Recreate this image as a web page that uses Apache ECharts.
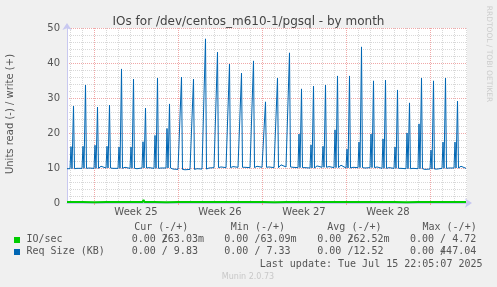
<!DOCTYPE html>
<html>
<head>
<meta charset="utf-8">
<title>IOs for /dev/centos_m610-1/pgsql - by month</title>
<script src="https://cdn.jsdelivr.net/npm/echarts@6/dist/echarts.min.js"></script>
</head>
<body style="margin: 0; background: #f0f0f0">
<div id="main" style="width: 497px; height: 287px"></div>
<script type="text/javascript">
// x is hours from the left edge of the plot (33 days shown)
// one entry per day
var bigPeak = [27.7, 33.7, 27.4, 28.0, 38.3, 35.4, 27.1, 35.7, 28.3, 36.0, 35.4,
    46.9, 43.1, 39.7, 37.1, 40.6, 28.9, 35.7, 42.9, 32.6, 33.4, 33.7, 36.3,
    36.3, 44.6, 34.9, 35.1, 32.3, 28.6, 35.7, 34.9, 35.7, 29.1];
var smallPeak = [16.1, 16.2, 16.5, 16.2, 16.0, 16.0, 17.5, 19.3, 21.3, null, null,
    null, null, null, null, null, null, null, null, 19.7, 16.6, 16.2, 20.9,
    15.4, 17.4, 19.7, 18.3, 16.0, 20.0, 22.6, 15.1, 17.4, 17.4];
var baseLevel = [9.8, 9.9, 9.9, 10.0, 9.9, 9.9, 10.0, 9.9, 10.0, 9.6, 9.6,
    9.7, 10.1, 10.1, 10.2, 10.1, 10.2, 10.1, 10.3, 10.1, 10.0, 10.2, 10.1,
    10.0, 10.1, 10.1, 9.9, 9.9, 9.8, 9.8, 9.7, 9.9, 10.0, 9.9];
var baseLate = [9.9, 10.0, 10.5, 9.9, 10.2, 9.8, 10.1, 10.0, 9.7, 9.5, 9.8,
    10.0, 10.3, 10.4, 10.2, 10.5, 10.3, 10.9, 10.2, 10.1, 10.6, 10.4, 10.8,
    10.2, 10.0, 10.3, 10.1, 9.9, 9.9, 9.6, 9.7, 10.0, 10.5, 9.9];
var ioLevel = [0.26, 0.26, 0.25, 0.26, 0.27, 0.26, 0.26, 0.26, 0.25, 0.26, 0.26,
    0.26, 0.27, 0.26, 0.26, 0.26, 0.26, 0.25, 0.26, 0.26, 0.26, 0.26, 0.27,
    0.26, 0.26, 0.26, 0.26, 0.26, 0.25, 0.26, 0.26, 0.26, 0.26, 0.26];
var ioBump = [0.55, 0.55, 0.5, 0.55, 0.55, 0.55, 0.9, 0.55, 0.55, 0.5, 0.55,
    0.5, 0.55, 0.5, 0.55, 0.55, 0.55, 0.5, 0.55, 0.55, 0.5, 0.55, 0.55,
    0.55, 0.5, 0.55, 0.55, 0.5, 0.55, 0.55, 0.55, 0.5, 0.55];
var weekLabels = ['Week 25', 'Week 26', 'Week 27', 'Week 28'];
var weekStarts = [54, 222, 390, 558, 726];
var weekMids = [138, 306, 474, 642];

var dayLines = [];
for (var h = 6; h < 800; h += 24) dayLines.push(h);

var reqData = [[0, baseLevel[0]]];
var ioData = [[0, ioLevel[0]]];
for (var d = 0; d < bigPeak.length; d++) {
    var t = d * 24;
    reqData.push([t + 6, baseLevel[d]]);
    reqData.push([t + 8, smallPeak[d] == null ? baseLevel[d] : smallPeak[d]]);
    reqData.push([t + 10, baseLevel[d]]);
    reqData.push([t + 13, bigPeak[d]]);
    reqData.push([t + 15, baseLevel[d]]);
    reqData.push([t + 20, baseLate[d]]);
    ioData.push([t + 7, ioLevel[d]]);
    ioData.push([t + 9, ioBump[d]]);
    ioData.push([t + 11, ioLevel[d]]);
}
reqData.push([798, baseLate[bigPeak.length]]);
ioData.push([798, ioLevel[bigPeak.length]]);

var mono = '10px "DejaVu Sans Mono"';
var col = [131.7, 224.3, 317.3, 410];
var cw = 6.02;

function txt(x, y, s, font, fill, align) {
    return {
        type: 'text', x: x, y: y, silent: true,
        style: { text: s, font: font || mono, fill: fill || '#555', align: align || 'left', verticalAlign: 'middle' }
    };
}

var graphics = [
    txt(col[0] + 2.5, 227.5, 'Cur (-/+)'),
    txt(col[1] + 6.5, 227.5, 'Min (-/+)'),
    txt(col[2] + 10, 227.5, 'Avg (-/+)'),
    txt(col[3] + 12.5, 227.5, 'Max (-/+)'),
    { type: 'rect', shape: { x: 14, y: 237, width: 6, height: 6 }, style: { fill: '#00cc00' } },
    { type: 'rect', shape: { x: 14, y: 249, width: 6, height: 6 }, style: { fill: '#0066b3' } },
    txt(26.5, 239.5, 'IO/sec'),
    txt(26.5, 251.5, 'Req Size (KB)'),
    txt(col[0], 239.5, '0.00 /'),
    txt(col[0] + 5 * cw, 239.5, '263.03m'),
    txt(col[1], 239.5, '0.00 /63.09m'),
    txt(col[2], 239.5, '0.00 /'),
    txt(col[2] + 5 * cw, 239.5, '262.52m'),
    txt(col[3], 239.5, '0.00 / 4.72'),
    txt(col[0], 251.5, '0.00 / 9.83'),
    txt(col[1], 251.5, '0.00 / 7.33'),
    txt(col[2], 251.5, '0.00 /12.52'),
    txt(col[3], 251.5, '0.00 /'),
    txt(col[3] + 5 * cw, 251.5, '447.04'),
    txt(482.5, 264, 'Last update: Tue Jul 15 22:05:07 2025', mono, '#555', 'right'),
    txt(248, 276.5, 'Munin 2.0.73', '8px "DejaVu Sans"', '#c8c8c8', 'center'),
    {
        type: 'text', x: 10, y: 114, rotation: Math.PI / 2, silent: true,
        style: { text: 'Units read (-) / write (+)', font: '10px "DejaVu Sans"', fill: '#555', align: 'center', verticalAlign: 'middle' }
    },
    {
        type: 'text', x: 489, y: 54, rotation: -Math.PI / 2, silent: true,
        style: { text: 'RRDTOOL / TOBI OETIKER', font: '7.5px "DejaVu Sans"', fill: '#cccccc', align: 'center', verticalAlign: 'middle' }
    }
];

var myChart = echarts.init(document.getElementById('main'), null, { renderer: 'canvas' });

var option = {
    animation: false,
    backgroundColor: '#f0f0f0',
    textStyle: { fontFamily: 'DejaVu Sans' },
    title: {
        text: 'IOs for /dev/centos_m610-1/pgsql - by month',
        left: 'center', top: 11,
        textStyle: { fontSize: 12, fontWeight: 'normal', color: '#444', fontFamily: 'DejaVu Sans' }
    },
    grid: { left: 67, right: 30, top: 28, bottom: 84, show: true, backgroundColor: '#fff', borderWidth: 0 },
    xAxis: [
        {
            type: 'value', min: 0, max: 800, position: 'bottom',
            axisLine: { show: true, symbol: ['none', 'arrow'], symbolSize: [7, 7], symbolOffset: [0, 5], lineStyle: { color: '#c8c8f0', width: 1 } },
            axisTick: { show: false, customValues: dayLines },
            axisLabel: { show: false },
            splitLine: { show: true, lineStyle: { color: '#d8d8d8', type: 'dotted', width: 1 } }
        },
        {
            type: 'value', min: 0, max: 800, position: 'bottom',
            axisLine: { show: false },
            axisTick: { show: true, customValues: weekStarts, length: 2, inside: false, lineStyle: { color: '#f0a0a0' } },
            axisLabel: { show: false },
            splitLine: { show: true, lineStyle: { color: '#f0a8a8', type: 'dotted', width: 1 } }
        },
        {
            type: 'value', min: 0, max: 800, position: 'bottom',
            axisLine: { show: false },
            axisTick: { show: false, customValues: weekMids },
            axisLabel: {
                show: true, customValues: weekMids, margin: 4, fontSize: 10, color: '#555',
                formatter: function (v) { return weekLabels[weekMids.indexOf(v)]; }
            },
            splitLine: { show: false }
        }
    ],
    yAxis: {
        type: 'value', min: 0, max: 50, interval: 10,
        axisLine: { show: true, symbol: ['none', 'arrow'], symbolSize: [7, 7], symbolOffset: [0, 5], lineStyle: { color: '#c8c8f0', width: 1 } },
        axisTick: { show: false },
        axisLabel: { fontSize: 10, color: '#555', margin: 7 },
        splitLine: { show: true, lineStyle: { color: '#f0a8a8', type: 'dotted', width: 1 } },
        minorTick: { show: false, splitNumber: 5 },
        minorSplitLine: { show: true, lineStyle: { color: '#d8d8d8', type: 'dotted', width: 1 } }
    },
    series: [
        {
            name: 'Req Size (KB)', type: 'line', xAxisIndex: 0, data: reqData,
            symbol: 'none', z: 3,
            lineStyle: { color: '#0066b3', width: 1 }
        },
        {
            name: 'IO/sec', type: 'line', xAxisIndex: 0, data: ioData,
            symbol: 'none', z: 4,
            lineStyle: { color: '#00cc00', width: 2 }
        }
    ],
    graphic: graphics
};
myChart.setOption(option, true);
</script>
</body>
</html>
